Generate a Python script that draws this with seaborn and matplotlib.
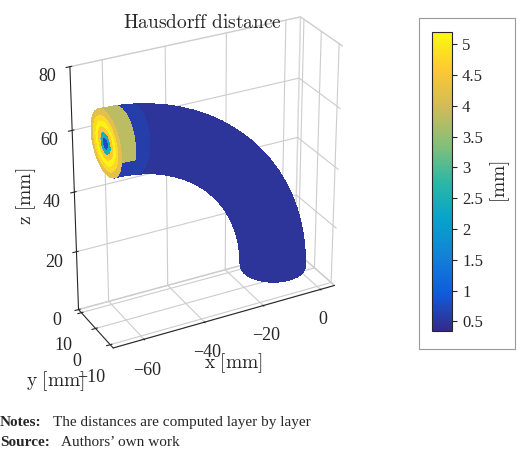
import numpy as np
import matplotlib
matplotlib.use('Agg')
import matplotlib.pyplot as plt
import seaborn as sns
from matplotlib.colors import LinearSegmentedColormap, Normalize

sns.set_style('white')
plt.rcParams['font.family'] = ['Liberation Serif', 'DejaVu Serif']
plt.rcParams['mathtext.fontset'] = 'cm'

# parula-like colour anchors
PARULA = ['#352a87', '#0f5cdd', '#1481d6', '#06a4ca', '#2eb7a4',
          '#87bf77', '#d1bb59', '#fec832', '#f9fb0e']
cmap = LinearSegmentedColormap.from_list('parula', PARULA)
norm = Normalize(vmin=0.35, vmax=5.2)

# geometry of the bent tube [mm]
bend_center_x = -65
bend_center_z = 5
bend_radius = 55
tube_radius = 10

# Hausdorff distance along the arc (bottom -> top end), one value per segment
arc_dist = [0.5, 0.5, 0.5, 0.5, 0.5, 0.5, 0.5, 0.5, 0.5, 0.5,
            0.5, 0.5, 0.5, 0.5, 0.5, 0.5, 0.5, 0.5, 0.6, 3.8]
# distance on the top end face, from centre ring outwards
cap_dist = [0.8, 2.5, 4.6, 5.1, 4.8, 4.2]

n_seg = len(arc_dist)
t = np.linspace(0, np.pi / 2, n_seg + 1)
phi = np.linspace(0, 2 * np.pi, 41)
T, P = np.meshgrid(t, phi)
rad = bend_radius + tube_radius * np.sin(P)
X = bend_center_x + rad * np.cos(T)
Z = bend_center_z + rad * np.sin(T)
Y = tube_radius * np.cos(P)

seg_vals = np.tile(np.array(arc_dist), (len(phi) - 1, 1))
side = np.sin(0.5 * (P[:-1, :-1] + P[1:, :-1]))
seg_vals = np.where(side > -0.2, seg_vals, np.minimum(seg_vals, 0.6))

fig = plt.figure(figsize=(5.2, 4.53), dpi=100)
ax = fig.add_axes([0.0, 0.18, 0.78, 0.82], projection='3d')
ax.plot_surface(X, Y, Z, facecolors=cmap(norm(seg_vals)),
                linewidth=0, antialiased=False, shade=False)

# end cap
rr = np.linspace(0, tube_radius, len(cap_dist) + 1)
R, PC = np.meshgrid(rr, phi)
CX = np.full_like(R, bend_center_x)
CZ = bend_center_z + bend_radius + R * np.sin(PC)
CY = R * np.cos(PC)
cap_vals = np.tile(np.array(cap_dist), (len(phi) - 1, 1))
ax.plot_surface(CX, CY, CZ, facecolors=cmap(norm(cap_vals)),
                linewidth=0, antialiased=False, shade=False)

ax.set_xlim(-70, 5)
ax.set_ylim(-12, 12)
ax.set_zlim(0, 80)
ax.set_xticks([-60, -40, -20, 0])
ax.set_yticks([-10, 0, 10])
ax.set_zticks([0, 20, 40, 60, 80])
ax.set_box_aspect((75, 24, 80))
ax.view_init(elev=28, azim=-118)
for a in (ax.xaxis, ax.yaxis, ax.zaxis):
    a.set_rotate_label(False)
    a.pane.fill = False
    a.pane.set_edgecolor('#cccccc')
ax.set_xlabel(r'$\mathrm{x\ [mm]}$', fontsize=14, rotation=0)
ax.set_ylabel(r'$\mathrm{y\ [mm]}$', fontsize=14, rotation=0)
ax.set_zlabel(r'$\mathrm{z\ [mm]}$', fontsize=14, rotation=90)
ax.set_title(r'$\mathrm{Hausdorff\ distance}$', fontsize=14, y=0.98)
ax.tick_params(labelsize=13)

cax = fig.add_axes([0.83, 0.27, 0.04, 0.66])
sm = plt.cm.ScalarMappable(norm=norm, cmap=cmap)
cb = fig.colorbar(sm, cax=cax, ticks=[0.5, 1, 1.5, 2, 2.5, 3, 3.5, 4, 4.5, 5])
cb.set_ticklabels(['0.5', '1', '1.5', '2', '2.5', '3', '3.5', '4', '4.5', '5'])
cb.ax.tick_params(labelsize=12)
cb.set_label(r'$\mathrm{[mm]}$', fontsize=14)
fig.patches.append(plt.Rectangle((0.805, 0.23), 0.185, 0.73, fill=False,
                                 edgecolor='#999999', lw=0.8,
                                 transform=fig.transFigure))

fig.text(0.0, 0.06, 'Notes:', fontsize=11, fontweight='bold')
fig.text(0.102, 0.06, 'The distances are computed layer by layer', fontsize=11)
fig.text(0.0, 0.015, 'Source:', fontsize=11, fontweight='bold')
fig.text(0.118, 0.015, 'Authors\u2019 own work', fontsize=11)
fig.savefig('out.png', dpi=100)
